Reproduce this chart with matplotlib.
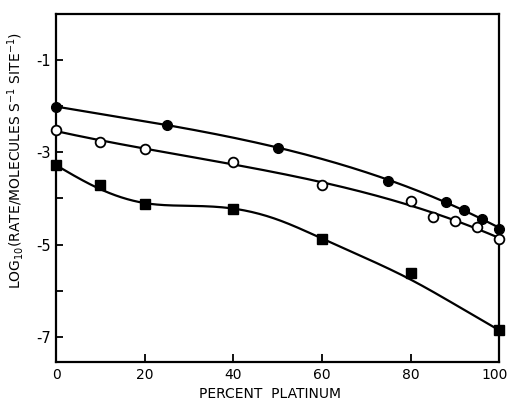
import numpy as np
import matplotlib
matplotlib.use("Agg")
import matplotlib.pyplot as plt
import matplotlib.transforms as mtransforms

plt.rcParams['font.family'] = ['DejaVu Sans']
plt.rcParams['axes.unicode_minus'] = False

# filled circles
pt_filled = [0, 25, 50, 75, 88, 92, 96, 100]
log_filled = [-2.01, -2.40, -2.90, -3.62, -4.07, -4.24, -4.44, -4.66]

# open circles
pt_open = [0, 10, 20, 40, 60, 80, 85, 90, 95, 100]
log_open = [-2.52, -2.77, -2.93, -3.21, -3.70, -4.06, -4.41, -4.48, -4.62, -4.87]

# filled squares
pt_sq = [0, 10, 20, 40, 60, 80, 100]
log_sq = [-3.28, -3.70, -4.13, -4.22, -4.87, -5.62, -6.86]

# drawn curve through the squares
sq_curve_x = [0, 10, 20, 30, 40, 50, 60, 70, 80, 90, 100]
sq_curve_y = [-3.28, -3.80, -4.10, -4.16, -4.22, -4.46, -4.87, -5.30, -5.76, -6.30, -6.86]

xticks = [0, 20, 40, 60, 80, 100]
yticks = [-1, -3, -5, -7]


def natural_spline(x, y, xs):
    x = np.asarray(x, float)
    y = np.asarray(y, float)
    n = len(x)
    h = np.diff(x)
    A = np.zeros((n, n))
    r = np.zeros(n)
    A[0, 0] = A[-1, -1] = 1
    for i in range(1, n - 1):
        A[i, i - 1] = h[i - 1]
        A[i, i] = 2 * (h[i - 1] + h[i])
        A[i, i + 1] = h[i]
        r[i] = 6 * ((y[i + 1] - y[i]) / h[i] - (y[i] - y[i - 1]) / h[i - 1])
    m = np.linalg.solve(A, r)
    k = np.clip(np.searchsorted(x, xs) - 1, 0, n - 2)
    t = xs - x[k]
    hk = h[k]
    a = (m[k + 1] - m[k]) / (6 * hk)
    b = m[k] / 2
    c = (y[k + 1] - y[k]) / hk - hk * (2 * m[k] + m[k + 1]) / 6
    return y[k] + c * t + b * t ** 2 + a * t ** 3


fig = plt.figure(figsize=(5.10, 4.01), dpi=100)
ax = fig.add_axes([0.110, 0.097, 0.869, 0.868])

xs = np.linspace(0, 100, 300)
fill_fit = np.polyval(np.polyfit(pt_filled, log_filled, 3), xs)
open_fit = np.polyval(np.polyfit(pt_open, log_open, 3), xs)
sq_fit = natural_spline(sq_curve_x, sq_curve_y, xs)

for fit in (fill_fit, open_fit, sq_fit):
    ax.plot(xs, fit, color='black', lw=1.6, zorder=2, clip_on=False)

ax.plot(pt_filled, log_filled, 'o', ms=7, mfc='black', mec='black', zorder=3, clip_on=False)
ax.plot(pt_open, log_open, 'o', ms=7, mfc='white', mec='black', mew=1.3, zorder=3, clip_on=False)
ax.plot(pt_sq, log_sq, 's', ms=6.5, mfc='black', mec='black', zorder=3, clip_on=False)

ax.set_xlim(0, 100)
ax.set_ylim(-7.55, 0)
ax.set_xticks(xticks)
ax.set_yticks(yticks)
ax.set_yticks([-2, -4, -6], minor=True)
ax.tick_params(direction='in', length=6, width=1.3, labelsize=10.5, pad=4)
ax.tick_params(axis='x', labelsize=10)
ax.tick_params(axis='y', which='both', direction='in', length=5, width=1.3)
for s in ax.spines.values():
    s.set_linewidth(1.6)

# nudge the "100" label so it stays inside the figure
last = ax.get_xticklabels()[-1]
last.set_transform(last.get_transform() + mtransforms.ScaledTranslation(-3.5 / 72, 0, fig.dpi_scale_trans))

ax.set_xlabel('PERCENT  PLATINUM', fontsize=10)
ax.xaxis.set_label_coords(0.483, -0.071)
ax.set_ylabel('LOG$_{10}$(RATE/MOLECULES S$^{-1}$ SITE$^{-1}$)', fontsize=10)
ax.yaxis.set_label_coords(-0.068, 0.578)

fig.savefig('out.png', dpi=100)
